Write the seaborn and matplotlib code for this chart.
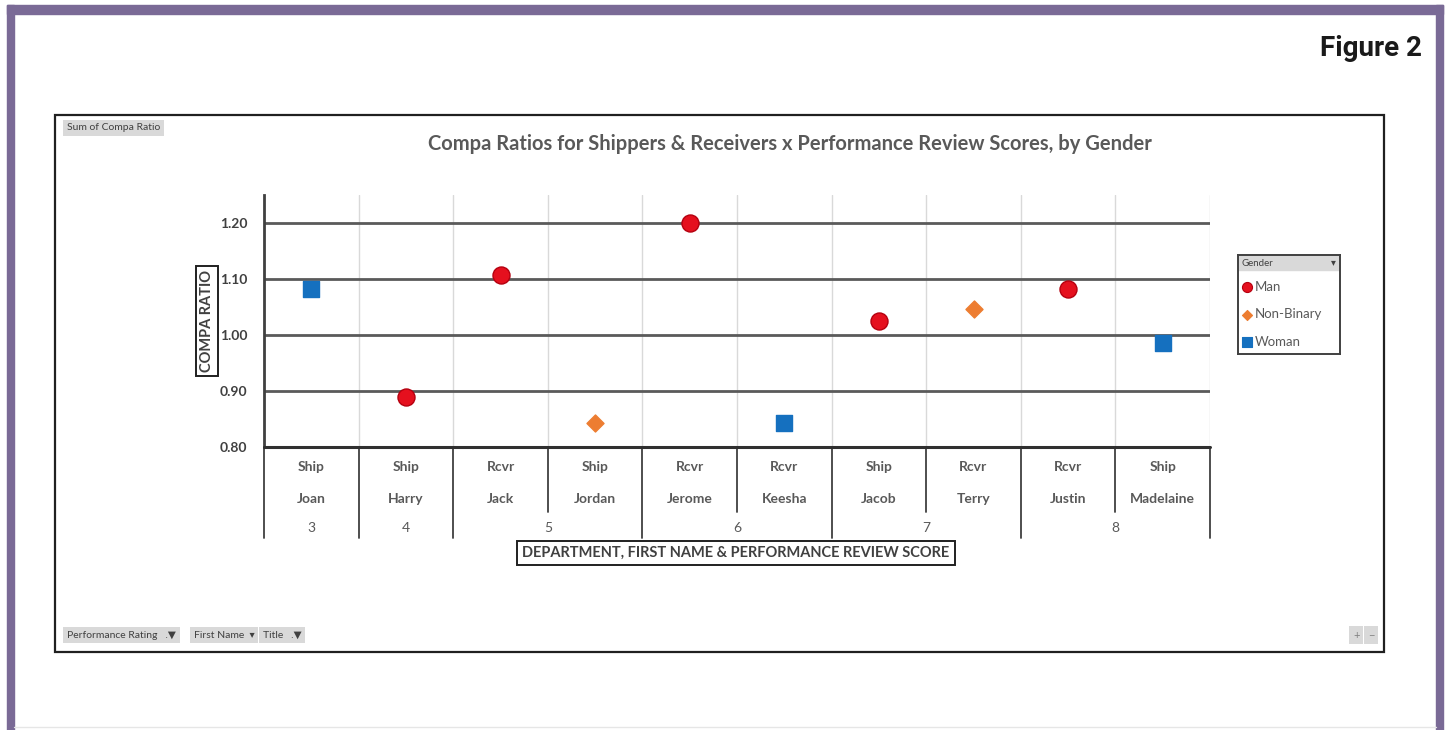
import matplotlib
matplotlib.use("Agg")
import matplotlib.pyplot as plt
import matplotlib.patches as mpatches
from matplotlib.lines import Line2D
import pandas as pd
import seaborn as sns

# ============================
# DATA
# ============================
names = ["Joan", "Harry", "Jack", "Jordan", "Jerome", "Keesha", "Jacob", "Terry", "Justin", "Madelaine"]
departments = ["Ship", "Ship", "Rcvr", "Ship", "Rcvr", "Rcvr", "Ship", "Rcvr", "Rcvr", "Ship"]
scores = [3, 4, 5, 5, 6, 6, 7, 7, 8, 8]
genders = ["Woman", "Man", "Man", "Non-Binary", "Man", "Woman", "Man", "Non-Binary", "Man", "Woman"]
compa_ratio = [1.082, 0.889, 1.107, 0.843, 1.200, 0.843, 1.025, 1.046, 1.082, 0.986]
y_ticks = [0.80, 0.90, 1.00, 1.10, 1.20]

gender_order = ["Man", "Non-Binary", "Woman"]
palette = {"Man": "#E5101E", "Non-Binary": "#ED7D31", "Woman": "#1570BF"}
markers = {"Man": "o", "Non-Binary": "D", "Woman": "s"}
edges = {"Man": "#B5000F", "Non-Binary": "#ED7D31", "Woman": "#1570BF"}
sizes = {"Man": 150, "Non-Binary": 75, "Woman": 135}

df = pd.DataFrame({"name": names, "dept": departments, "score": scores,
                   "gender": genders, "ratio": compa_ratio})

# ============================
# FIGURE
# ============================
sns.set_style("white")
plt.rcParams["font.family"] = ["Lato", "DejaVu Sans"]
W, H = 1450, 730
fig = plt.figure(figsize=(W / 100, H / 100), dpi=100)


def fx(px):
    return px / W


def fy(py):
    return 1 - py / H


# purple frame
purple = "#7A6A96"
fig.patches.append(mpatches.Rectangle((fx(7), fy(14)), fx(1436), 9 / H, color=purple, transform=fig.transFigure))
fig.patches.append(mpatches.Rectangle((fx(7), 0), fx(7), fy(5), color=purple, transform=fig.transFigure))
fig.patches.append(mpatches.Rectangle((fx(1436), 0), fx(7), fy(5), color=purple, transform=fig.transFigure))
fig.add_artist(Line2D([fx(14), fx(1436)], [fy(727), fy(727)], color="#e6e6e6", lw=1, transform=fig.transFigure))

fig.text(fx(1422), fy(48), "Figure 2", ha="right", va="center", fontsize=20, fontweight="bold",
         family=["Liberation Sans Narrow", "Roboto", "DejaVu Sans"], color="#1a1a1a")

# chart box
fig.patches.append(mpatches.Rectangle((fx(55), fy(652)), fx(1329), 537 / H, fill=False,
                                      edgecolor="#202020", lw=1.6, transform=fig.transFigure))
fig.text(fx(67), fy(128), "Sum of Compa Ratio", ha="left", va="center", fontsize=7.5, color="#404040",
         bbox=dict(boxstyle="square,pad=0.35", facecolor="#d9d9d9", edgecolor="none"))
fig.text(fx(790), fy(144), "Compa Ratios for Shippers & Receivers x Performance Review Scores, by Gender",
         ha="center", va="center", fontsize=14.5, fontweight="bold", color="#595959")

# ============================
# PLOT AREA
# ============================
ax = fig.add_axes([fx(264), fy(447), fx(946), 252 / H])
n = len(names)
for g in gender_order:
    sub = df[df["gender"] == g]
    sns.scatterplot(x=sub.index, y=sub["ratio"], ax=ax, marker=markers[g], s=sizes[g],
                    color=palette[g], edgecolor=edges[g], linewidth=1, zorder=5, legend=False)

ax.set_xlim(-0.5, n - 0.5)
ax.set_ylim(0.80, 1.25)
ax.set_yticks(y_ticks)
ax.set_yticklabels([f"{v:.2f}" for v in y_ticks], fontsize=10, fontweight="bold", color="#404040")
ax.tick_params(axis="y", length=0, pad=12)
ax.set_xticks([])
ax.set_xlabel("")
ax.set_ylabel("")
for s in ["top", "right", "bottom"]:
    ax.spines[s].set_visible(False)
ax.spines["left"].set_color("#404040")
ax.spines["left"].set_linewidth(2)

for v in y_ticks[1:]:
    ax.axhline(v, color="#5a5a5a", lw=2, zorder=2)
ax.axhline(0.80, color="#303030", lw=2.2, zorder=3, clip_on=False)
for i in range(1, n + 1):
    ax.axvline(i - 0.5, color="#d9d9d9", lw=1, zorder=1)

# multi-level category axis
tr = ax.get_xaxis_transform()
lab_kw = dict(ha="center", va="center", fontsize=10, fontweight="bold", color="#595959", transform=tr)
for i in range(n):
    ax.text(i, -0.079, departments[i], **lab_kw)
    ax.text(i, -0.206, names[i], **lab_kw)
for i in range(n + 1):
    if i == 0 or i == n or scores[i] != scores[i - 1]:
        bottom = -0.361
    else:
        bottom = -0.258
    ax.plot([i - 0.5, i - 0.5], [0, bottom], color="#404040", lw=1.3, transform=tr, clip_on=False)
groups = sorted(set(scores))
for s in groups:
    idx = [i for i in range(n) if scores[i] == s]
    ax.text((idx[0] + idx[-1]) / 2, -0.321, str(s), ha="center", va="center", fontsize=10,
            color="#595959", transform=tr)

# axis title boxes
fig.text(fx(207), fy(321), "COMPA RATIO", rotation=90, ha="center", va="center", fontsize=10.5,
         fontweight="bold", color="#404040",
         bbox=dict(boxstyle="square,pad=0.3", facecolor="white", edgecolor="#202020", lw=1.4))
fig.text(fx(736), fy(553), "DEPARTMENT, FIRST NAME & PERFORMANCE REVIEW SCORE", ha="center", va="center",
         fontsize=10.5, fontweight="bold", color="#404040",
         bbox=dict(boxstyle="square,pad=0.35", facecolor="white", edgecolor="#202020", lw=1.4))

# ============================
# LEGEND
# ============================
lax = fig.add_axes([fx(1238), fy(354), fx(102), 99 / H])
lax.set_xlim(0, 102)
lax.set_ylim(99, 0)
lax.set_xticks([])
lax.set_yticks([])
for s in lax.spines.values():
    s.set_color("#404040")
    s.set_linewidth(1.4)
lax.add_patch(mpatches.Rectangle((0, 0), 102, 15, color="#d9d9d9"))
lax.text(3, 8, "Gender", fontsize=7, va="center", color="#404040")
lax.text(95, 8, "▾", fontsize=7, va="center", ha="center", color="#404040")
for k, g in enumerate(gender_order):
    yy = 32 + k * 27.5
    lax.scatter([9], [yy], marker=markers[g], s=sizes[g] * 0.35, color=palette[g], edgecolor=edges[g], lw=0.8)
    lax.text(17, yy, g, fontsize=9.5, va="center", color="#595959")

# pivot field buttons
btn = dict(boxstyle="square,pad=0.35", facecolor="#d9d9d9", edgecolor="none")
fig.text(fx(67), fy(635), "Performance Rating   .▼", ha="left", va="center", fontsize=7.5, color="#404040", bbox=btn)
fig.text(fx(194), fy(635), "First Name  ▾", ha="left", va="center", fontsize=7.5, color="#404040", bbox=btn)
fig.text(fx(263), fy(635), "Title   .▼", ha="left", va="center", fontsize=7.5, color="#404040", bbox=btn)
fig.text(fx(1353), fy(635), "+", ha="left", va="center", fontsize=8, color="#808080", bbox=btn)
fig.text(fx(1368), fy(635), "−", ha="left", va="center", fontsize=8, color="#808080", bbox=btn)

fig.savefig("out.png", dpi=100, facecolor="white")
print("saved out.png")
